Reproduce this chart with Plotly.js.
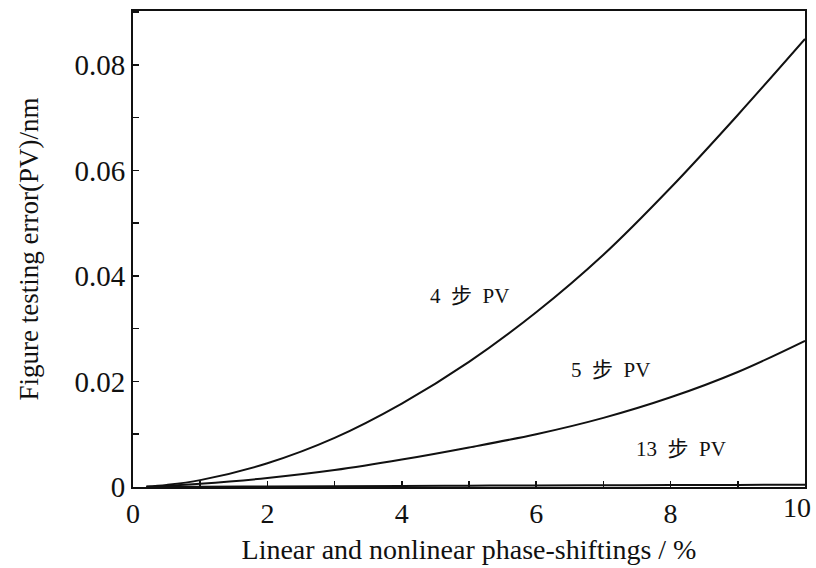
<!DOCTYPE html>
<html>
<head>
<meta charset="utf-8">
<script src="https://cdn.plot.ly/plotly-3.0.1.min.js"></script>
<style>html,body{margin:0;padding:0;background:#fff;}#chart{width:816px;height:568px;}</style>
</head>
<body>
<div id="chart"></div>
<script>
// Phase-shifting error (%)
const shiftPct = [0.2, 0.5, 1, 2, 3, 4, 5, 6, 7, 8, 9, 10];
// PV figure testing error (nm)
const pv4 = [0.0001, 0.0004, 0.0013, 0.0045, 0.0093, 0.0158, 0.0237, 0.0331, 0.0440, 0.0567, 0.0705, 0.0849];
const pv5 = [0.00003, 0.0002, 0.0006, 0.0017, 0.0032, 0.0052, 0.0075, 0.0100, 0.0131, 0.0170, 0.0218, 0.0277];
const pv13 = [0.00001, 0.00003, 0.00006, 0.0001, 0.00015, 0.0002, 0.00025, 0.0003, 0.00033, 0.00036, 0.0004, 0.00045];
const seriesNames = ["4\u00a0 步\u00a0 PV", "5\u00a0 步\u00a0 PV", "13\u00a0 步\u00a0 PV"];
const labelX = [5.0, 7.1, 8.15];
const labelY = [0.0361, 0.0222, 0.0072];
// Axis tick labels
const xTickVals = [0, 2, 4, 6, 8, 10];
const xTickText = ["0", "2", "4", "6", "8", "10"];
const yTickVals = [0, 0.02, 0.04, 0.06, 0.08];
const yTickText = ["0", "0.02", "0.04", "0.06", "0.08"];

const serif = "'Liberation Serif', 'Times New Roman', 'Noto Sans CJK SC', serif";
const lineStyle = {color: '#111', width: 2, shape: 'spline'};
const traces = [pv4, pv5, pv13].map((ys, i) => ({
  x: shiftPct, y: ys, type: 'scatter', mode: 'lines',
  name: seriesNames[i], line: lineStyle, hoverinfo: 'x+y'
}));

const annotations = seriesNames.map((t, i) => ({
  x: labelX[i], y: labelY[i], xref: 'x', yref: 'y', text: t, showarrow: false,
  font: {family: serif, size: 21, color: '#111'}
}));

// The right-most x label sits a little left of its tick in the reference so it stays on the page:
// it is drawn as an annotation anchored at that tick value.
const lastIdx = xTickVals.length - 1;
const xTickShown = xTickText.map((t, i) => i === lastIdx ? '' : t);
annotations.push({
  x: xTickVals[lastIdx], xref: 'x', y: 0, yref: 'paper', yanchor: 'top', xanchor: 'right',
  xshift: 8, yshift: -3, text: xTickText[lastIdx], showarrow: false,
  font: {family: serif, size: 28, color: '#111'}
});

const layout = {
  width: 816, height: 568,
  margin: {l: 133, r: 11, t: 11, b: 81},
  paper_bgcolor: '#fff', plot_bgcolor: '#fff',
  showlegend: false,
  font: {family: serif, color: '#111'},
  xaxis: {
    range: [0, 10], tickmode: 'array', tickvals: xTickVals, ticktext: xTickShown,
    ticks: 'inside', ticklen: 6, tickwidth: 1.5, tickcolor: '#111',
    minor: {dtick: 1, tick0: 0, ticks: 'inside', ticklen: 6, tickwidth: 1.5, tickcolor: '#111'},
    showline: true, linewidth: 2, linecolor: '#111', mirror: true,
    showgrid: false, zeroline: false,
    tickfont: {family: serif, size: 28, color: '#111'},
    title: {text: 'Linear and nonlinear phase-shiftings / %', font: {family: serif, size: 28, color: '#111'}, standoff: 12}
  },
  yaxis: {
    range: [0, 0.0902], tickmode: 'array', tickvals: yTickVals, ticktext: yTickText,
    ticks: 'inside', ticklen: 6, tickwidth: 1.5, tickcolor: '#111',
    minor: {dtick: 0.01, tick0: 0, ticks: 'inside', ticklen: 6, tickwidth: 1.5, tickcolor: '#111'},
    showline: true, linewidth: 2, linecolor: '#111', mirror: true,
    showgrid: false, zeroline: false, ticklabeloverflow: 'allow',
    tickfont: {family: serif, size: 29, color: '#111'},
    title: {text: 'Figure testing error(PV)/nm', font: {family: serif, size: 27, color: '#111'}, standoff: 28}
  },
  annotations: annotations
};

Plotly.newPlot('chart', traces, layout, {displayModeBar: false, staticPlot: true});
</script>
</body>
</html>
